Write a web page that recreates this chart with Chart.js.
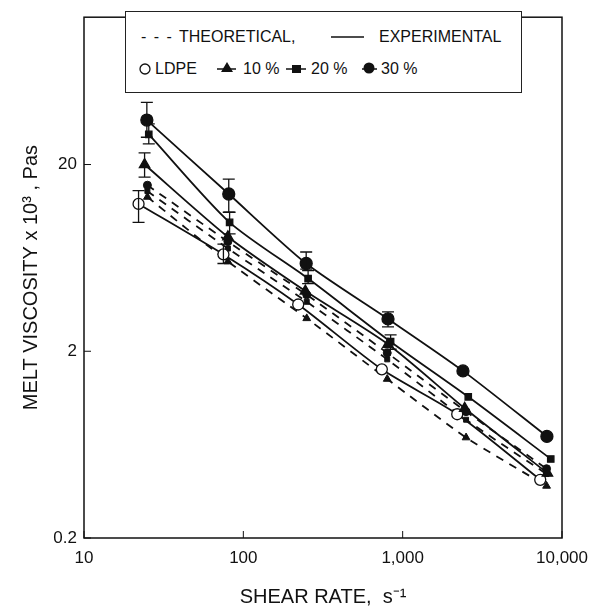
<!DOCTYPE html>
<html>
<head>
<meta charset="utf-8">
<script src="https://cdn.jsdelivr.net/npm/chart.js@4.4.1/dist/chart.umd.min.js"></script>
<style>
  html, body { margin: 0; padding: 0; background: #fff; }
  #wrap { position: relative; width: 601px; height: 614px; }
  #legend {
    position: absolute; left: 125px; top: 11px; width: 397px; height: 82px;
    box-sizing: border-box; border: 1.5px solid #222; background: #fff;
    font: 16px "Liberation Sans", Arial, sans-serif; color: #111;
  }
  #legend span { position: absolute; white-space: nowrap; line-height: 20px; }
  #legend svg { position: absolute; left: 0; top: 0; }
</style>
</head>
<body>
<div id="wrap">
  <canvas id="viscChart" width="601" height="614"></canvas>
  <div id="legend">
    <svg width="397" height="82">
      <line x1="205" y1="25" x2="238" y2="25" stroke="#111" stroke-width="1.6"/>
      <circle cx="19" cy="57" r="5" fill="#fff" stroke="#111" stroke-width="1.3"/>
      <line x1="91" y1="57" x2="110" y2="57" stroke="#111" stroke-width="1.5"/>
      <polygon points="101,50 107,60 95,60" fill="#111"/>
      <line x1="160" y1="57" x2="180" y2="57" stroke="#111" stroke-width="1.5"/>
      <rect x="166" y="53" width="9" height="8" fill="#111"/>
      <line x1="236" y1="57" x2="251" y2="57" stroke="#111" stroke-width="1.5"/>
      <circle cx="243" cy="56" r="5.5" fill="#111"/>
    </svg>
    <span style="left:15px;top:15px;letter-spacing:1.5px">- - -</span>
    <span style="left:53px;top:15px">THEORETICAL,</span>
    <span style="left:253px;top:15px">EXPERIMENTAL</span>
    <span style="left:29px;top:47px">LDPE</span>
    <span style="left:117px;top:47px">10 %</span>
    <span style="left:185px;top:47px">20 %</span>
    <span style="left:255px;top:47px">30 %</span>
  </div>
</div>
<script>
const xTicks = [10, 100, 1000, 10000];
const xTickLabels = ['10', '100', '1,000', '10,000'];
const yTicks = [0.2, 2, 20];
const yTickLabels = ['0.2', '2', '20'];

// experimental (solid lines)
const rateLDPE = [22, 75, 221, 740, 2200, 7300];
const viscLDPE = [12.3, 6.6, 3.56, 1.60, 0.92, 0.41];
const loLDPE = [9.8, 5.9, null, null, null, null];
const hiLDPE = [14.5, 7.5, null, null, null, null];

const rate10 = [24, 80, 245, 809, 2450, 8100];
const visc10 = [20, 8.2, 4.2, 2.18, 0.99, 0.445];
const lo10 = [17.1, null, null, null, null, null];
const hi10 = [23.1, null, null, null, null, null];

const rate20 = [25.5, 82, 255, 840, 2580, 8500];
const visc20 = [29, 9.8, 4.9, 2.25, 1.14, 0.53];
const lo20 = [25.8, 8.5, 4.6, 2.05, null, null];
const hi20 = [33, 11.1, 5.4, 2.45, null, null];

const rate30 = [24.8, 81, 248, 809, 2390, 8040];
const visc30 = [34.6, 13.9, 5.9, 2.98, 1.57, 0.70];
const lo30 = [28, 11.1, 5.5, 2.7, null, null];
const hi30 = [43, 16.7, 6.8, 3.25, null, null];

// theoretical (dashed lines)
const rateTheo = [25, 80, 250, 800, 2500, 8000];
const theo30 = [15.5, 7.73, 4.01, 1.96, 0.95, 0.47];
const theo20 = [14.4, 7.1, 3.68, 1.81, 0.86, 0.44];
const theo10 = [13.4, 6.05, 3.0, 1.42, 0.69, 0.38];

const pts = (xs, ys) => xs.map((x, i) => ({ x: x, y: ys[i] }));
const INK = '#111';
const FONT = '"Liberation Sans", Arial, sans-serif';

function expSet(label, xs, ys, lo, hi, style, radius, fill) {
    return {
        label, data: pts(xs, ys), errLo: lo, errHi: hi,
        borderColor: INK, borderWidth: 1.8, tension: 0.25,
        pointStyle: style, pointRadius: radius,
        pointBackgroundColor: fill, pointBorderColor: INK, pointBorderWidth: 1.3
    };
}
function theoSet(label, ys, style, radius) {
    return {
        label, data: pts(rateTheo, ys),
        borderColor: INK, borderWidth: 1.8, borderDash: [8, 7], tension: 0.2,
        pointStyle: style, pointRadius: radius,
        pointBackgroundColor: INK, pointBorderColor: INK, pointBorderWidth: 1
    };
}

const framePlugin = {
    id: 'frame',
    afterDatasetsDraw(chart) {
        const { ctx, chartArea: a, scales: { x, y } } = chart;
        ctx.save();
        ctx.strokeStyle = INK;
        ctx.lineWidth = 1.3;
        // error bars
        chart.data.datasets.forEach(ds => {
            if (!ds.errLo) return;
            ds.data.forEach((p, i) => {
                if (ds.errLo[i] == null) return;
                const px = x.getPixelForValue(p.x);
                const y1 = y.getPixelForValue(ds.errLo[i]);
                const y2 = y.getPixelForValue(ds.errHi[i]);
                ctx.beginPath();
                ctx.moveTo(px, y1); ctx.lineTo(px, y2);
                ctx.moveTo(px - 6, y1); ctx.lineTo(px + 6, y1);
                ctx.moveTo(px - 6, y2); ctx.lineTo(px + 6, y2);
                ctx.stroke();
            });
        });
        // frame + inward ticks
        ctx.lineWidth = 1.5;
        ctx.strokeRect(a.left, a.top, a.right - a.left, a.bottom - a.top);
        ctx.lineWidth = 1;
        ctx.beginPath();
        xTicks.forEach(v => {
            const px = x.getPixelForValue(v);
            ctx.moveTo(px, a.bottom); ctx.lineTo(px, a.bottom - 7);
        });
        yTicks.forEach(v => {
            const py = y.getPixelForValue(v);
            ctx.moveTo(a.left, py); ctx.lineTo(a.left + 7, py);
        });
        ctx.stroke();
        ctx.restore();
    }
};

const ctx = document.getElementById('viscChart').getContext('2d');
const chart = new Chart(ctx, {
    type: 'scatter',
    data: {
        datasets: [
            expSet('30 %', rate30, visc30, lo30, hi30, 'circle', 6, INK),
            expSet('20 %', rate20, visc20, lo20, hi20, 'rect', 4.5, INK),
            expSet('10 %', rate10, visc10, lo10, hi10, 'triangle', 6, INK),
            expSet('LDPE', rateLDPE, viscLDPE, loLDPE, hiLDPE, 'circle', 5.5, '#fff'),
            theoSet('30 % theoretical', theo30, 'circle', 4),
            theoSet('20 % theoretical', theo20, 'rect', 3.5),
            theoSet('10 % theoretical', theo10, 'triangle', 4.5)
        ].map(d => Object.assign(d, { showLine: true }))
    },
    options: {
        responsive: false,
        animation: false,
        layout: { padding: { top: 11, right: 39, left: 0, bottom: 0 } },
        plugins: { legend: { display: false }, tooltip: { enabled: false } },
        scales: {
            x: {
                type: 'logarithmic', min: 10, max: 10000,
                afterBuildTicks: s => { s.ticks = xTicks.map(v => ({ value: v })); },
                afterFit: s => { s.height = 76; },
                grid: { display: false, drawTicks: false },
                border: { display: false },
                ticks: {
                    autoSkip: false, maxRotation: 0, padding: 10, color: INK,
                    font: { family: FONT, size: 17 },
                    callback: v => xTickLabels[xTicks.indexOf(v)]
                },
                title: {
                    display: true, text: 'SHEAR RATE,  s\u207B\u00B9', color: INK,
                    font: { family: FONT, size: 20 },
                    padding: { top: 0, bottom: 5 }
                }
            },
            y: {
                type: 'logarithmic', min: 0.2, max: 123,
                afterBuildTicks: s => { s.ticks = yTicks.map(v => ({ value: v })); },
                afterFit: s => { s.width = 84; },
                grid: { display: false, drawTicks: false },
                border: { display: false },
                ticks: {
                    autoSkip: false, padding: 7, color: INK,
                    font: { family: FONT, size: 17 },
                    callback: v => yTickLabels[yTicks.indexOf(v)]
                },
                title: {
                    display: true, text: 'MELT VISCOSITY x 10\u00B3 , Pas', color: INK,
                    font: { family: FONT, size: 20 },
                    padding: { top: 19, bottom: 0 }
                }
            }
        }
    },
    plugins: [framePlugin]
});
</script>
</body>
</html>
